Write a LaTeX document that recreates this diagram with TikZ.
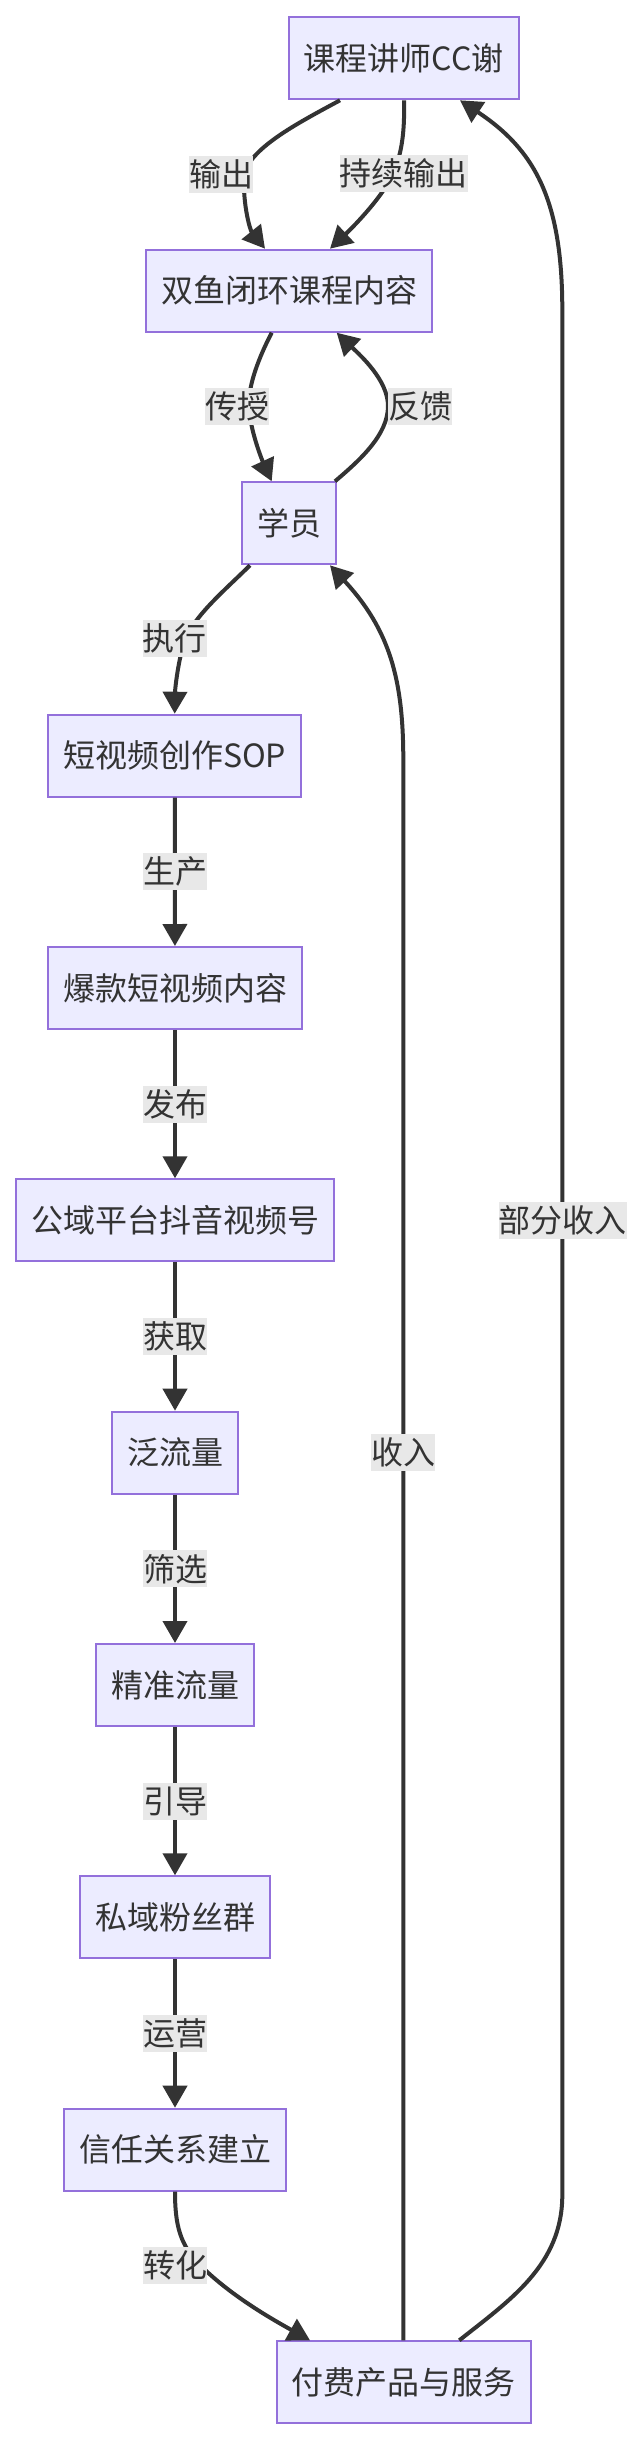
\documentclass[tikz,border=0pt]{standalone}
\usepackage{fontspec}
\setmainfont{Noto Sans CJK SC}
\usetikzlibrary{arrows.meta}
\definecolor{nodefill}{HTML}{ECECFF}
\definecolor{nodeedge}{HTML}{9370DB}
\definecolor{ink}{HTML}{333333}
\definecolor{lblbg}{HTML}{E8E8E8}
\begin{document}
\begin{tikzpicture}[x=1pt,y=-1pt,
  box/.style={draw=nodeedge, fill=nodefill, line width=2pt, text=ink, minimum height=82pt,
    inner xsep=15pt, inner ysep=0pt, font=\fontsize{32pt}{38pt}\selectfont},
  lbl/.style={fill=lblbg, text=ink, inner xsep=0pt, inner ysep=0pt, minimum height=37pt,
    font=\fontsize{32pt}{38pt}\selectfont},
  link/.style={draw=ink, line width=4pt, -{Triangle[length=22pt,width=24pt]}}]
\useasboundingbox (0,0) rectangle (644,2440);
\fill[white] (0,0) rectangle (644,2440);

% nodes
\node[box] (n1)  at (403.7,58.3)   {课程讲师CC谢};
\node[box] (n2)  at (289.3,290.7)  {双鱼闭环课程内容};
\node[box] (n3)  at (289.3,523.3)  {学员};
\node[box] (n4)  at (174.7,755.7)  {短视频创作SOP};
\node[box] (n5)  at (175,988)      {爆款短视频内容};
\node[box] (n6)  at (175,1220.3)   {公域平台抖音视频号};
\node[box] (n7)  at (175,1452.7)   {泛流量};
\node[box] (n8)  at (175,1685)     {精准流量};
\node[box] (n9)  at (175,1917.3)   {私域粉丝群};
\node[box] (n10) at (175,2149.7)   {信任关系建立};
\node[box] (n11) at (403.8,2382.3) {付费产品与服务};

% edges
\draw[link] ([xshift=-63.7pt]n1.south) .. controls (300,122) and (245,150) .. (244,178)
  .. controls (243,205) and (250,230) .. ([xshift=-24.3pt]n2.north);
\draw[link] ([xshift=0.3pt]n1.south) .. controls (405,140) and (400,165) .. (385,188)
  .. controls (372,208) and (350,230) .. ([xshift=40.7pt]n2.north);
\draw[link] ([xshift=-17.6pt]n2.south) .. controls (255,365) and (248,390) .. (249,407)
  .. controls (250,430) and (262,460) .. ([xshift=-17.6pt]n3.north);
\draw[link] ([xshift=45.7pt]n3.north) .. controls (360,460) and (388,435) .. (388,406)
  .. controls (388,380) and (360,355) .. ([xshift=47.4pt]n2.south);
\draw[link] ([xshift=-39.3pt]n3.south) .. controls (225,590) and (195,615) .. (185,640)
  .. controls (178,660) and (175,690) .. (n4.north);
\draw[link] (n4) -- (n5);
\draw[link] (n5) -- (n6);
\draw[link] (n6) -- (n7);
\draw[link] (n7) -- (n8);
\draw[link] (n8) -- (n9);
\draw[link] (n9) -- (n10);
\draw[link] (n10.south) .. controls (175,2225) and (180,2245) .. (200,2265)
  .. controls (230,2295) and (270,2318) .. ([xshift=-93.8pt]n11.north);
\draw[link] ([xshift=-0.5pt]n11.north) -- (403.3,760)
  .. controls (403.3,680) and (390,630) .. ([xshift=40.7pt]n3.south);
\draw[link] ([xshift=55.5pt]n11.north) .. controls (510,2300) and (562.3,2265) .. (562.3,2195)
  -- (562.3,310) .. controls (562.3,200) and (535,150) .. ([xshift=56.3pt]n1.south);

% edge labels
\node[lbl] (l1)  at (221.2,174.7)  {输出};
\node[lbl] (l2)  at (403.8,173.8)  {持续输出};
\node[lbl] (l3)  at (237.3,406)    {传授};
\node[lbl] (l4)  at (420,406)      {反馈};
\node[lbl] (l5)  at (174.7,638.7)  {执行};
\node[lbl] (l6)  at (175,871.8)    {生产};
\node[lbl] (l7)  at (175,1104.2)   {发布};
\node[lbl] (l8)  at (175,1336.5)   {获取};
\node[lbl] (l9)  at (175,1568.8)   {筛选};
\node[lbl] (l10) at (175,1801.2)   {引导};
\node[lbl] (l11) at (175,2033.5)   {运营};
\node[lbl] (l12) at (175,2265.5)   {转化};
\node[lbl] (l13) at (403.3,1452.7) {收入};
\node[lbl] (l14) at (562.5,1220)   {部分收入};
\end{tikzpicture}
\end{document}
